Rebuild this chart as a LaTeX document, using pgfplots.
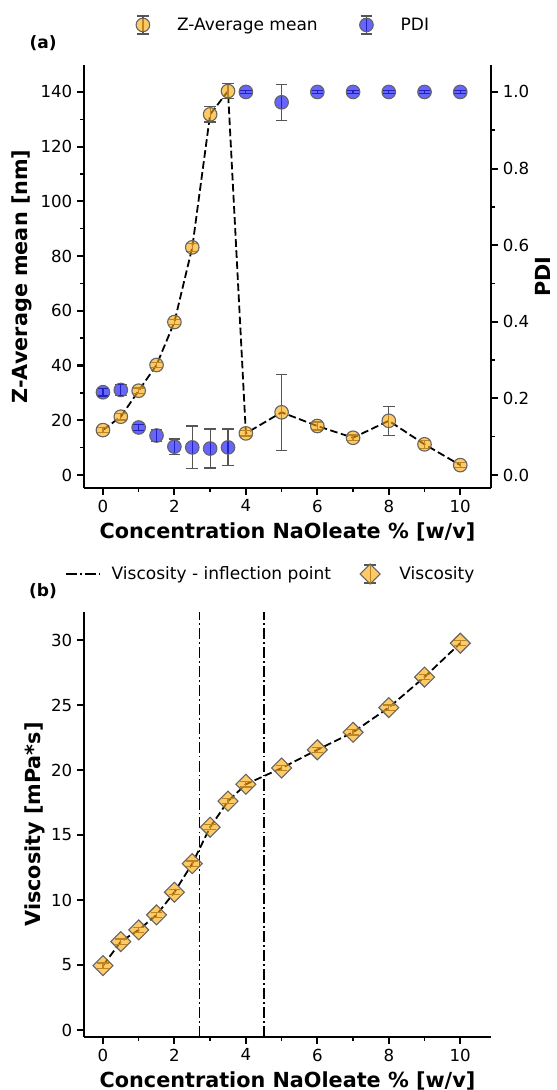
\documentclass[border=0pt]{standalone}
\usepackage{fontspec}
\setmainfont{DejaVu Sans}
\usepackage{pgfplots}
\pgfplotsset{compat=1.18}
\definecolor{zorange}{RGB}{255,165,0}
\definecolor{pblue}{RGB}{0,0,255}
\definecolor{ebar}{RGB}{85,85,85}
\definecolor{medge}{RGB}{100,100,100}

\pgfplotsset{
 base/.style={scale only axis, width=294.1pt,
   xmin=-0.53, xmax=10.86,
   /pgf/number format/assume math mode=true,
   tick label style={font=\fontsize{12}{14}\selectfont},
   label style={font=\fontsize{15}{18}\selectfont\bfseries},
   xlabel style={at={(axis description cs:0.5,-0.103)}, anchor=center},
   axis line style={line width=1.8pt,-},
   major tick length=5pt, minor tick length=3pt,
   every major tick/.style={line width=1.5pt, black},
   every minor tick/.style={line width=1.1pt, black},
   tick align=outside,
   legend style={draw=none, fill=none, font=\fontsize{12.3}{14}\selectfont, anchor=west,
     inner sep=0pt, outer sep=0pt},
   legend columns=2,
   legend cell align=left,
 },
 ebstyle/.style={error bars/y dir=both, error bars/y explicit,
   error bars/error bar style={ebar, line width=0.9pt, solid},
   error bars/error mark options={ebar, rotate=90, mark size=4.2pt, line width=0.9pt, solid}},
 errleg/.style={legend image code/.code={
   \path[draw=none, fill=none] (0.3cm-4.9pt,0pt) -- (0.3cm+12.7pt,0pt);
   \draw[ebar,line width=0.9pt, solid] (0.3cm,-6.5pt)--(0.3cm,6.5pt) (0.3cm-4.2pt,-6.5pt)--(0.3cm+4.2pt,-6.5pt) (0.3cm-4.2pt,6.5pt)--(0.3cm+4.2pt,6.5pt);
   \draw[##1,draw=medge] plot coordinates {(0.3cm,0cm)};
 }},
}

\begin{document}
\begin{tikzpicture}
% ---------- (a) PDI axis (right) ----------
\begin{axis}[base, at={(60.71pt,435.06pt)}, anchor=south west, height=305.7pt,
  ymin=-0.0339, ymax=1.0705,
  axis x line=none, axis y line*=right,
  ytick={0,0.2,0.4,0.6,0.8,1.0}, minor y tick num=1,
  yticklabel style={/pgf/number format/.cd, fixed, fixed zerofill, precision=1},
  ylabel={PDI},
  ylabel style={at={(axis description cs:1.128,0.5)}, anchor=center},
]
\addplot[only marks, mark=*, mark size=4.9pt,
  mark options={fill=pblue, fill opacity=0.6, draw=medge, line width=0.8pt}, ebstyle]
  table[x=x, y=y, y error=e] {
x y e
0 0.216 0.010
0.5 0.222 0.015
1 0.124 0.008
1.5 0.103 0.015
2 0.074 0.020
2.5 0.072 0.056
3 0.069 0.051
3.5 0.072 0.048
4 1.000 0.004
5 0.973 0.047
6 1.000 0.004
7 1.000 0.004
8 1.000 0.004
9 1.000 0.004
10 1.000 0.004
};
\end{axis}
% ---------- (a) Z-Average axis (left) ----------
\begin{axis}[base, at={(60.71pt,435.06pt)}, anchor=south west, height=305.7pt,
  ymin=-4.75, ymax=149.86,
  axis x line*=bottom, axis y line*=left,
  xtick={0,2,4,6,8,10}, minor x tick num=1,
  ytick={0,20,40,60,80,100,120,140}, minor y tick num=1,
  xlabel={Concentration NaOleate \% [w/v]},
  ylabel={Z-Average mean [nm]},
  ylabel style={at={(axis description cs:-0.152,0.5)}, anchor=center},
  legend style={at={(axis description cs:0.128,1.0946)}},
  /tikz/every odd column/.style={column sep=10pt},
  /tikz/every even column/.style={column sep=28.3pt},
]
\addplot[black, line width=1.3pt, dash pattern=on 5.5pt off 2.5pt, mark=*, mark size=4.9pt,
  mark options={solid, fill=zorange, fill opacity=0.6, draw=medge, line width=0.8pt}, ebstyle,
  errleg]
  table[x=x, y=y, y error=e] {
x y e
0 16.4 1.0
0.5 21.3 1.2
1 30.8 1.0
1.5 40.2 1.0
2 55.9 1.0
2.5 83.2 1.5
3 131.8 2.8
3.5 140.3 2.7
4 15.2 1.0
5 22.9 13.9
6 17.9 1.5
7 13.6 1.0
8 19.8 5.3
9 11.2 1.5
10 3.6 1.0
};
\addlegendentry{Z-Average mean}
\addlegendimage{only marks, mark=*, mark size=4.9pt, mark options={fill=pblue, fill opacity=0.6, draw=medge, line width=0.8pt}, errleg}
\addlegendentry{PDI}
\end{axis}
\node[font=\fontsize{12.3}{14}\selectfont\bfseries] at (31.1pt,756.3pt) {(a)};

% ---------- (b) Viscosity ----------
\begin{axis}[base, at={(60.71pt,38.30pt)}, anchor=south west, height=307.1pt,
  ymin=-0.54, ymax=32.15,
  axis x line*=bottom, axis y line*=left,
  xtick={0,2,4,6,8,10}, minor x tick num=1,
  ytick={0,5,10,15,20,25,30},
  xlabel={Concentration NaOleate \% [w/v]},
  ylabel={Viscosity [mPa*s]},
  ylabel style={at={(axis description cs:-0.12,0.5)}, anchor=center},
  legend style={at={(axis description cs:-0.047,1.0894)}},
  /tikz/every odd column/.style={column sep=6.5pt},
  /tikz/every even column/.style={column sep=19pt},
]
\addplot[black, line width=1.3pt, dash pattern=on 8pt off 2.2pt on 1.3pt off 2.2pt, forget plot]
  coordinates {(2.7,-0.54) (2.7,32.15)};
\addplot[black, line width=1.3pt, dash pattern=on 8pt off 2.2pt on 1.3pt off 2.2pt,
  legend image code/.code={\draw[##1] (0pt,0pt)--(24pt,0pt);}]
  coordinates {(4.5,-0.54) (4.5,32.15)};
\addlegendentry{Viscosity - inflection point}
\addplot[black, line width=1.3pt, dash pattern=on 5.5pt off 2.5pt, mark=square*, mark size=5.1pt,
  mark options={solid, rotate=45, fill=zorange, fill opacity=0.6, draw=medge, line width=0.8pt}, ebstyle,
  errleg]
  table[x=x, y=y, y error=e] {
x y e
0 4.95 0.2
0.5 6.8 0.2
1 7.7 0.2
1.5 8.85 0.2
2 10.6 0.2
2.5 12.8 0.2
3 15.6 0.2
3.5 17.6 0.2
4 18.9 0.2
5 20.15 0.2
6 21.55 0.2
7 22.9 0.2
8 24.8 0.2
9 27.15 0.2
10 29.75 0.2
};
\addlegendentry{Viscosity}
\end{axis}
\node[font=\fontsize{12.3}{14}\selectfont\bfseries] at (31.1pt,360.3pt) {(b)};

\pgfresetboundingbox
\path[use as bounding box] (0,0) rectangle (401.8pt,787.7pt);
\end{tikzpicture}
\end{document}
